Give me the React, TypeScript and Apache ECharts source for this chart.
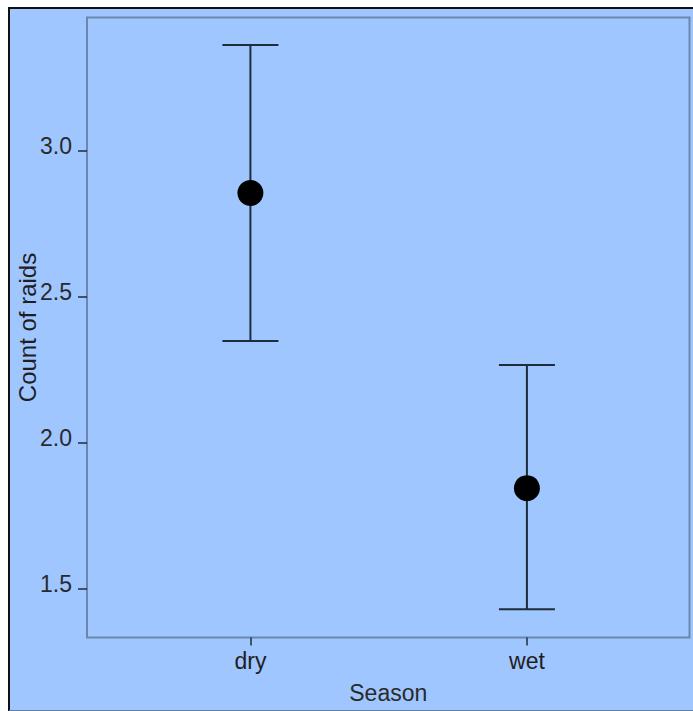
import React, { useEffect, useRef } from "react";
import * as echarts from "echarts";

// Seasons on the x axis and the mean raid count with its interval for each
const seasons = ["dry", "wet"];
const meanRaids = [2.855, 1.845];
const lowerRaids = [2.348, 1.431];
const upperRaids = [3.361, 2.266];
const yTicks = [1.5, 2.0, 2.5, 3.0];

const FONT = "'Liberation Sans', Arial, sans-serif";
const PANEL_BLUE = "#9fc6ff";
const FRAME = "#6a88ae";
const WHISKER = "#1e2c3b";

export default function App() {
  const ref = useRef<HTMLDivElement>(null);

  useEffect(() => {
    if (!ref.current) return;
    const chart = echarts.init(ref.current, undefined, { renderer: "svg" });

    const positions = seasons.map((_, i) => i + 1);
    const barData = positions.map((x, i) => [x, lowerRaids[i], upperRaids[i]]);
    const pointData = positions.map((x, i) => [x, meanRaids[i]]);

    chart.setOption({
      animation: false,
      backgroundColor: "#ffffff",
      graphic: [
        {
          type: "rect",
          z: -10,
          shape: { x: 9, y: 8, width: 700, height: 720 },
          style: { fill: PANEL_BLUE, stroke: "#111111", lineWidth: 2 },
        },
        {
          type: "line",
          z: -9,
          shape: { x1: 9, y1: 710.5, x2: 693, y2: 710.5 },
          style: { stroke: "#5f80a8", lineWidth: 1 },
        },
      ],
      grid: {
        left: 87,
        top: 17.5,
        right: 3.5,
        bottom: 73.5,
        outerBoundsMode: "none",
        containLabel: false,
        show: true,
        backgroundColor: "transparent",
        borderColor: FRAME,
        borderWidth: 2,
      },
      xAxis: {
        type: "value",
        min: 0.409,
        max: 2.588,
        name: "Season",
        nameLocation: "middle",
        nameGap: 44,
        nameMoveOverlap: false,
        nameTextStyle: { fontFamily: FONT, fontSize: 23, color: "#2a2a2a" },
        axisLine: { show: false },
        splitLine: { show: false },
        axisTick: {
          show: true,
          customValues: positions,
          length: 8,
          lineStyle: { color: "#1e2c3b", width: 1.5 },
        },
        axisLabel: {
          customValues: positions,
          margin: 12,
          fontFamily: FONT,
          fontSize: 23,
          color: "#1f1f1f",
          formatter: (v: number) => seasons[Math.round(v) - 1] ?? "",
        },
      },
      yAxis: {
        type: "value",
        min: 1.334,
        max: 3.455,
        name: "Count of raids",
        nameLocation: "middle",
        nameGap: 48,
        nameRotate: 90,
        nameMoveOverlap: false,
        nameTextStyle: { fontFamily: FONT, fontSize: 24, color: "#1f1f1f" },
        axisLine: { show: false },
        splitLine: { show: false },
        axisTick: {
          show: true,
          customValues: yTicks,
          length: 9,
          lineStyle: { color: "#1e2c3b", width: 1.5 },
        },
        axisLabel: {
          customValues: yTicks,
          margin: 15,
          fontFamily: FONT,
          fontSize: 23,
          color: "#2a2a2a",
          verticalAlign: "bottom",
          lineHeight: 10,
          formatter: (v: number) => v.toFixed(1),
        },
      },
      series: [
        {
          type: "custom",
          data: barData,
          z: 3,
          renderItem: (params: any, api: any) => {
            const x = api.value(0);
            const top = api.coord([x, api.value(2)]);
            const bottom = api.coord([x, api.value(1)]);
            const half = 28;
            const style = { stroke: WHISKER, lineWidth: 2 };
            return {
              type: "group",
              children: [
                { type: "line", shape: { x1: top[0], y1: top[1], x2: bottom[0], y2: bottom[1] }, style },
                { type: "line", shape: { x1: top[0] - half, y1: top[1], x2: top[0] + half, y2: top[1] }, style },
                { type: "line", shape: { x1: bottom[0] - half, y1: bottom[1], x2: bottom[0] + half, y2: bottom[1] }, style },
              ],
            };
          },
        },
        {
          type: "scatter",
          data: pointData,
          z: 4,
          symbol: "circle",
          symbolSize: 26,
          itemStyle: { color: "#000000", opacity: 1 },
        },
      ],
    });

    return () => chart.dispose();
  }, []);

  return (
    <div
      ref={ref}
      style={{ position: "absolute", left: 0, top: 0, width: 693, height: 711 }}
    />
  );
}
